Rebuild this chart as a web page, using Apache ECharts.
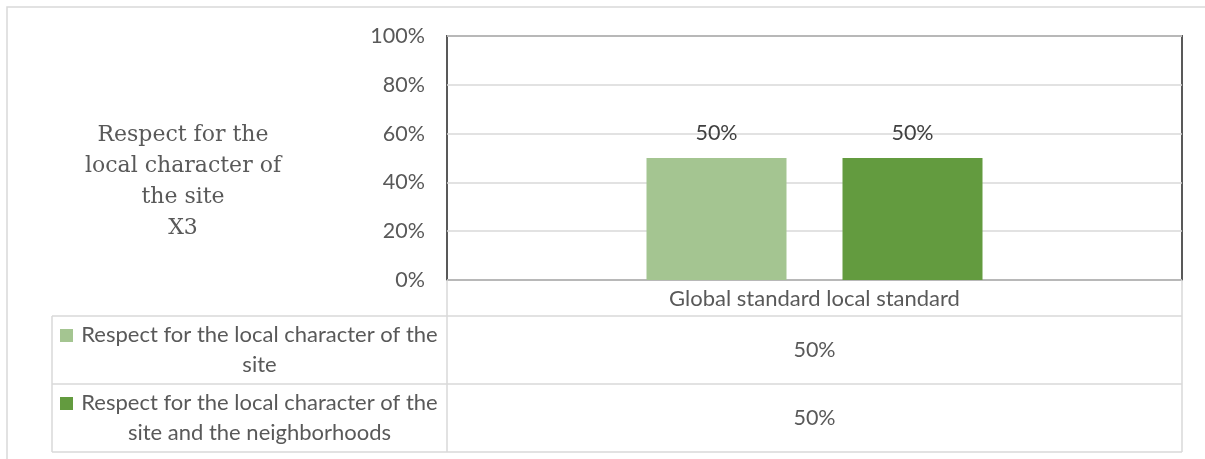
<!DOCTYPE html>
<html>
<head>
<meta charset="utf-8">
<script src="https://cdn.jsdelivr.net/npm/echarts@6/dist/echarts.min.js"></script>
<style>
  html, body { margin: 0; padding: 0; background: #ffffff; }
  #chart { width: 1205px; height: 459px; }
</style>
</head>
<body>
<div id="chart"></div>
<script>
// ---- data ----
const categories = ['Global standard local standard'];
const seriesNames = [
  'Respect for the local character of the\nsite',
  'Respect for the local character of the\nsite and the neighborhoods'
];
const siteOnly = [0.5];
const siteAndNeighborhoods = [0.5];
const yTicks = [0, 0.2, 0.4, 0.6, 0.8, 1];
const titleLines = ['Respect for the', 'local character of', 'the site', 'X3'];

// ---- styling / layout ----
const seriesColors = ['#A4C591', '#639B3F'];
const SANS = 'Lato, "Open Sans", sans-serif';
const SERIF = '"DejaVu Serif", serif';
const TEXT = '#595959';
const LINE = '#d9d9d9';
const NUM_SIZE = 21.5;
const TABLE_SIZE = 22;

const plot = { left: 447, top: 36, right: 1182, bottom: 280 };
const table = { left: 52, catBottom: 316, rowBottoms: [384, 452] };

const pct = v => Math.round(v * 100) + '%';
const seriesData = [siteOnly, siteAndNeighborhoods];

const chart = echarts.init(document.getElementById('chart'), null, { renderer: 'canvas' });

// data table drawn under the plot
function tableGraphics() {
  const els = [];
  const line = (x1, y1, x2, y2) => els.push({
    type: 'line', silent: true,
    shape: { x1, y1, x2, y2 },
    style: { stroke: LINE, lineWidth: 1.5 }
  });
  const lastBottom = table.rowBottoms[table.rowBottoms.length - 1];
  // verticals
  line(plot.left, plot.bottom, plot.left, lastBottom);
  line(plot.right, plot.bottom, plot.right, lastBottom);
  line(table.left, table.catBottom, table.left, lastBottom);
  // horizontals
  line(table.left, table.catBottom, plot.right, table.catBottom);
  table.rowBottoms.forEach(y => line(table.left, y, plot.right, y));

  const midX = (plot.left + plot.right) / 2;
  // category header
  els.push({
    type: 'text', silent: true,
    style: {
      text: categories[0], x: midX, y: (plot.bottom + table.catBottom) / 2 + 1,
      align: 'center', verticalAlign: 'middle',
      font: TABLE_SIZE + 'px ' + SANS, fill: TEXT
    }
  });

  let top = table.catBottom;
  table.rowBottoms.forEach((bottom, i) => {
    const rowMid = (top + bottom) / 2;
    const labelCenter = (table.left + 28 + plot.left - 8) / 2;
    // legend key
    els.push({
      type: 'rect', silent: true,
      shape: { x: table.left + 8, y: rowMid - 21, width: 13, height: 13 },
      style: { fill: seriesColors[i] }
    });
    // series name
    els.push({
      type: 'text', silent: true,
      style: {
        text: seriesNames[i], x: labelCenter, y: rowMid,
        align: 'center', verticalAlign: 'middle', lineHeight: 30,
        font: TABLE_SIZE + 'px ' + SANS, fill: TEXT
      }
    });
    // value
    els.push({
      type: 'text', silent: true,
      style: {
        text: pct(seriesData[i][0]), x: midX, y: rowMid,
        align: 'center', verticalAlign: 'middle',
        font: NUM_SIZE + 'px ' + SANS, fill: TEXT
      }
    });
    top = bottom;
  });
  return els;
}

const titleGraphic = {
  type: 'text', silent: true,
  style: {
    text: titleLines.join('\n'), x: 183, y: 182,
    align: 'center', verticalAlign: 'middle', lineHeight: 31,
    font: '22px ' + SERIF, fill: TEXT
  }
};

const outerBorder = {
  type: 'rect', silent: true,
  shape: { x: 7, y: 7, width: 1240, height: 480 },
  style: { fill: null, stroke: LINE, lineWidth: 1.5 }
};

const barLabel = {
  show: true, position: 'top', distance: 14,
  formatter: p => pct(p.value),
  color: '#404040', fontSize: NUM_SIZE, fontFamily: SANS
};

chart.setOption({
  animation: false,
  backgroundColor: '#ffffff',
  grid: {
    left: plot.left, top: plot.top,
    width: plot.right - plot.left, height: plot.bottom - plot.top,
    show: true, borderColor: '#595959', borderWidth: 2,
    containLabel: false
  },
  xAxis: {
    type: 'category', data: categories,
    axisLine: { show: false }, axisTick: { show: false }, axisLabel: { show: false },
    splitLine: { show: false }
  },
  yAxis: {
    type: 'value',
    min: yTicks[0], max: yTicks[yTicks.length - 1], interval: yTicks[1] - yTicks[0],
    axisLine: { show: false }, axisTick: { show: false },
    axisLabel: { formatter: pct, color: TEXT, fontSize: NUM_SIZE, fontFamily: SANS, margin: 22 },
    splitLine: { lineStyle: { color: LINE, width: 1.5 } }
  },
  series: [
    {
      name: seriesNames[0], type: 'bar', data: siteOnly,
      barWidth: 140, barGap: '40%',
      itemStyle: { color: seriesColors[0] }, label: barLabel
    },
    {
      name: seriesNames[1], type: 'bar', data: siteAndNeighborhoods,
      barWidth: 140, barGap: '40%',
      itemStyle: { color: seriesColors[1] }, label: barLabel
    }
  ],
  graphic: [outerBorder, titleGraphic].concat(tableGraphics())
});
</script>
</body>
</html>
